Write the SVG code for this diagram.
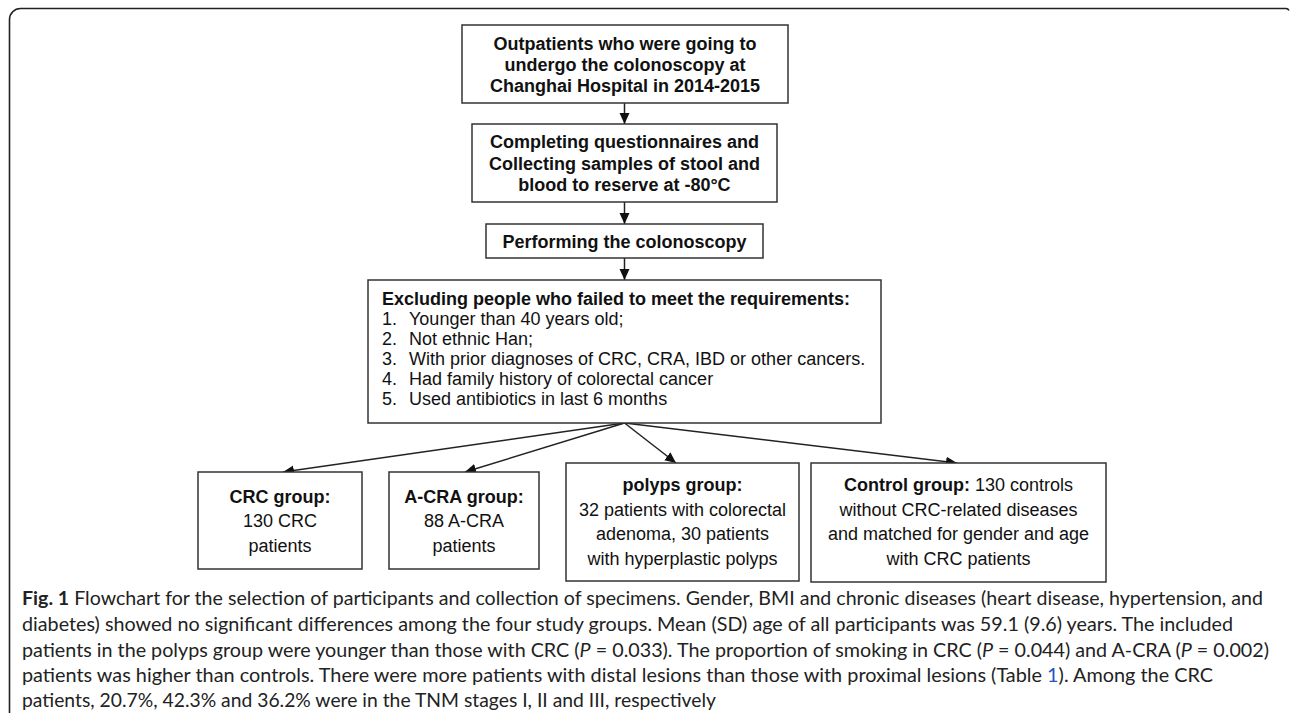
<svg xmlns="http://www.w3.org/2000/svg" width="1290" height="713" viewBox="0 0 1290 713">
<style>
.box{fill:#fff;stroke:#333;stroke-width:1.5}
.t{font-family:"Liberation Sans",Arial,sans-serif;font-size:18px;fill:#111;text-anchor:middle}
.b{font-weight:bold}
.l{font-family:"Liberation Sans",Arial,sans-serif;font-size:18px;fill:#111}
.edge{stroke:#222;stroke-width:1.5;fill:none;marker-end:url(#ah)}
.cap{font-family:Lato,"Open Sans",sans-serif;font-size:19px;fill:#222}
</style>
<defs>
<marker id="ah" markerUnits="userSpaceOnUse" markerWidth="12" markerHeight="11" refX="11" refY="5" orient="auto">
<path d="M0,0 L11,5 L0,10 z" fill="#111"/>
</marker>
</defs>
<rect width="1290" height="713" fill="#fff"/>
<path d="M9.5 713 V19.5 A11 11 0 0 1 20.5 8.5 H1286 q2 0 3 2" fill="none" stroke="#222" stroke-width="1.6"/>

<g id="connectors">
<line class="edge" x1="624.5" y1="103" x2="624.5" y2="124"/>
<line class="edge" x1="624.5" y1="202" x2="624.5" y2="224"/>
<line class="edge" x1="624.5" y1="258" x2="624.5" y2="280"/>
<line class="edge" x1="624.5" y1="423" x2="283" y2="472"/>
<line class="edge" x1="624.5" y1="423" x2="465" y2="472"/>
<line class="edge" x1="624.5" y1="423" x2="676" y2="463"/>
<line class="edge" x1="624.5" y1="423" x2="957" y2="463"/>
</g>

<g id="n1">
<rect class="box" x="462" y="25" width="326" height="78"/>
<text class="t b" x="625" y="49.5">Outpatients who were going to</text>
<text class="t b" x="625" y="70.5">undergo the colonoscopy at</text>
<text class="t b" x="625" y="91.5">Changhai Hospital in 2014-2015</text>
</g>

<g id="n2">
<rect class="box" x="472" y="124" width="305" height="78"/>
<text class="t b" x="624.5" y="148">Completing questionnaires and</text>
<text class="t b" x="624.5" y="169.5">Collecting samples of stool and</text>
<text class="t b" x="624.5" y="191">blood to reserve at -80°C</text>
</g>

<g id="n3">
<rect class="box" x="486" y="224" width="277" height="34"/>
<text class="t b" x="624.5" y="247.5">Performing the colonoscopy</text>
</g>

<g id="n4">
<rect class="box" x="368" y="280" width="513" height="143"/>
<text class="l b" x="382" y="305">Excluding people who failed to meet the requirements:</text>
<text class="l" x="382" y="325">1.</text><text class="l" x="409" y="325">Younger than 40 years old;</text>
<text class="l" x="382" y="345">2.</text><text class="l" x="409" y="345">Not ethnic Han;</text>
<text class="l" x="382" y="365">3.</text><text class="l" x="409" y="365">With prior diagnoses of CRC, CRA, IBD or other cancers.</text>
<text class="l" x="382" y="385">4.</text><text class="l" x="409" y="385">Had family history of colorectal cancer</text>
<text class="l" x="382" y="405">5.</text><text class="l" x="409" y="405">Used antibiotics in last 6 months</text>
</g>

<g id="n5">
<rect class="box" x="198" y="472" width="164" height="97"/>
<text class="t b" x="280" y="502.5">CRC group:</text>
<text class="t" x="280" y="527">130 CRC</text>
<text class="t" x="280" y="551.5">patients</text>
</g>

<g id="n6">
<rect class="box" x="389" y="472" width="150" height="97"/>
<text class="t b" x="464" y="502.5">A-CRA group:</text>
<text class="t" x="464" y="527">88 A-CRA</text>
<text class="t" x="464" y="551.5">patients</text>
</g>

<g id="n7">
<rect class="box" x="566" y="463" width="233" height="118"/>
<text class="t b" x="682.5" y="491">polyps group:</text>
<text class="t" x="682.5" y="515.5">32 patients with colorectal</text>
<text class="t" x="682.5" y="540">adenoma, 30 patients</text>
<text class="t" x="682.5" y="564.5">with hyperplastic polyps</text>
</g>

<g id="n8">
<rect class="box" x="811" y="463" width="295" height="119"/>
<text class="t" x="958.5" y="491"><tspan class="b">Control group:</tspan> 130 controls</text>
<text class="t" x="958.5" y="515.5">without CRC-related diseases</text>
<text class="t" x="958.5" y="540">and matched for gender and age</text>
<text class="t" x="958.5" y="564.5">with CRC patients</text>
</g>

<g id="caption">
<text class="cap" x="22" y="604.5" textLength="1241" lengthAdjust="spacingAndGlyphs"><tspan font-weight="bold">Fig. 1</tspan> Flowchart for the selection of participants and collection of specimens. Gender, BMI and chronic diseases (heart disease, hypertension, and</text>
<text class="cap" x="22" y="630.5" textLength="1211" lengthAdjust="spacingAndGlyphs">diabetes) showed no significant differences among the four study groups. Mean (SD) age of all participants was 59.1 (9.6) years. The included</text>
<text class="cap" x="22" y="656.5" textLength="1247" lengthAdjust="spacingAndGlyphs">patients in the polyps group were younger than those with CRC (<tspan font-style="italic">P</tspan> = 0.033). The proportion of smoking in CRC (<tspan font-style="italic">P</tspan> = 0.044) and A-CRA (<tspan font-style="italic">P</tspan> = 0.002)</text>
<text class="cap" x="22" y="682" textLength="1191" lengthAdjust="spacingAndGlyphs">patients was higher than controls. There were more patients with distal lesions than those with proximal lesions (Table <tspan fill="#2450c8">1</tspan>). Among the CRC</text>
<text class="cap" x="22" y="707" textLength="694" lengthAdjust="spacingAndGlyphs">patients, 20.7%, 42.3% and 36.2% were in the TNM stages I, II and III, respectively</text>
</g>
</svg>
